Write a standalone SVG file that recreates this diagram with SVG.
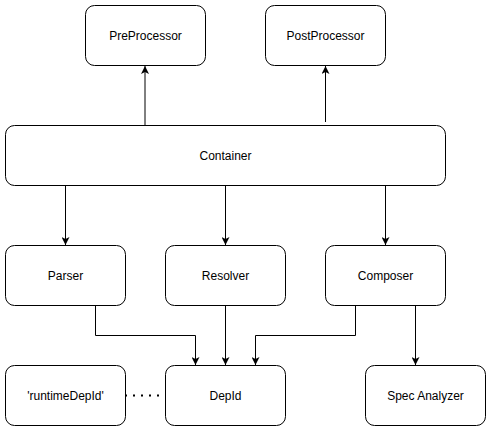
<svg xmlns="http://www.w3.org/2000/svg" width="491" height="432" viewBox="0 0 491 432">
<style>
.box{fill:#fff;stroke:#000;stroke-width:1}
.lbl{font-family:"Liberation Sans",Arial,sans-serif;font-size:12px;fill:#000;text-anchor:middle;dominant-baseline:central}
.edge{fill:none;stroke:#000;stroke-width:1}
.dot{fill:none;stroke:#000;stroke-width:2;stroke-dasharray:2 6}
</style>
<defs>
<marker id="arr" viewBox="0 0 10 10" refX="10" refY="5" markerWidth="8" markerHeight="8" markerUnits="userSpaceOnUse" orient="auto">
<path d="M0,0 L10,5 L0,10 L2.5,5 Z" fill="#000"/>
</marker>
</defs>
<rect width="491" height="432" fill="#fff"/>
<g id="connectors">
<path class="edge" d="M145,125.5 V66" marker-end="url(#arr)"/>
<path class="edge" d="M325.5,122 V66" marker-end="url(#arr)"/>
<path class="edge" d="M65.5,185.5 V245" marker-end="url(#arr)"/>
<path class="edge" d="M225.5,185.5 V245" marker-end="url(#arr)"/>
<path class="edge" d="M385.5,185.5 V245" marker-end="url(#arr)"/>
<path class="edge" d="M95.5,305.5 V335.5 H195.5 V365" marker-end="url(#arr)"/>
<path class="edge" d="M225.5,305.5 V365" marker-end="url(#arr)"/>
<path class="edge" d="M355.5,305.5 V335.5 H255.5 V365" marker-end="url(#arr)"/>
<path class="edge" d="M415.5,305.5 V365" marker-end="url(#arr)"/>
<path class="dot" d="M125,395.5 H160"/>
</g>
<g id="preprocessor"><rect class="box" x="85.5" y="5.5" width="120" height="60" rx="9"/><text class="lbl" x="145.5" y="35.5">PreProcessor</text></g>
<g id="postprocessor"><rect class="box" x="265.5" y="5.5" width="120" height="60" rx="9"/><text class="lbl" x="325.5" y="35.5">PostProcessor</text></g>
<g id="container"><rect class="box" x="5.5" y="125.5" width="440" height="60" rx="9"/><text class="lbl" x="225.5" y="155.5">Container</text></g>
<g id="parser"><rect class="box" x="5.5" y="245.5" width="120" height="60" rx="9"/><text class="lbl" x="65.5" y="275.5">Parser</text></g>
<g id="resolver"><rect class="box" x="165.5" y="245.5" width="120" height="60" rx="9"/><text class="lbl" x="225.5" y="275.5">Resolver</text></g>
<g id="composer"><rect class="box" x="325.5" y="245.5" width="120" height="60" rx="9"/><text class="lbl" x="385.5" y="275.5">Composer</text></g>
<g id="runtimedepid"><rect class="box" x="5.5" y="365.5" width="120" height="60" rx="9"/><text class="lbl" x="65.5" y="395.5">'runtimeDepId'</text></g>
<g id="depid"><rect class="box" x="165.5" y="365.5" width="120" height="60" rx="9"/><text class="lbl" x="225.5" y="395.5">DepId</text></g>
<g id="specanalyzer"><rect class="box" x="365.5" y="365.5" width="120" height="60" rx="9"/><text class="lbl" x="425.5" y="395.5">Spec Analyzer</text></g>
</svg>
